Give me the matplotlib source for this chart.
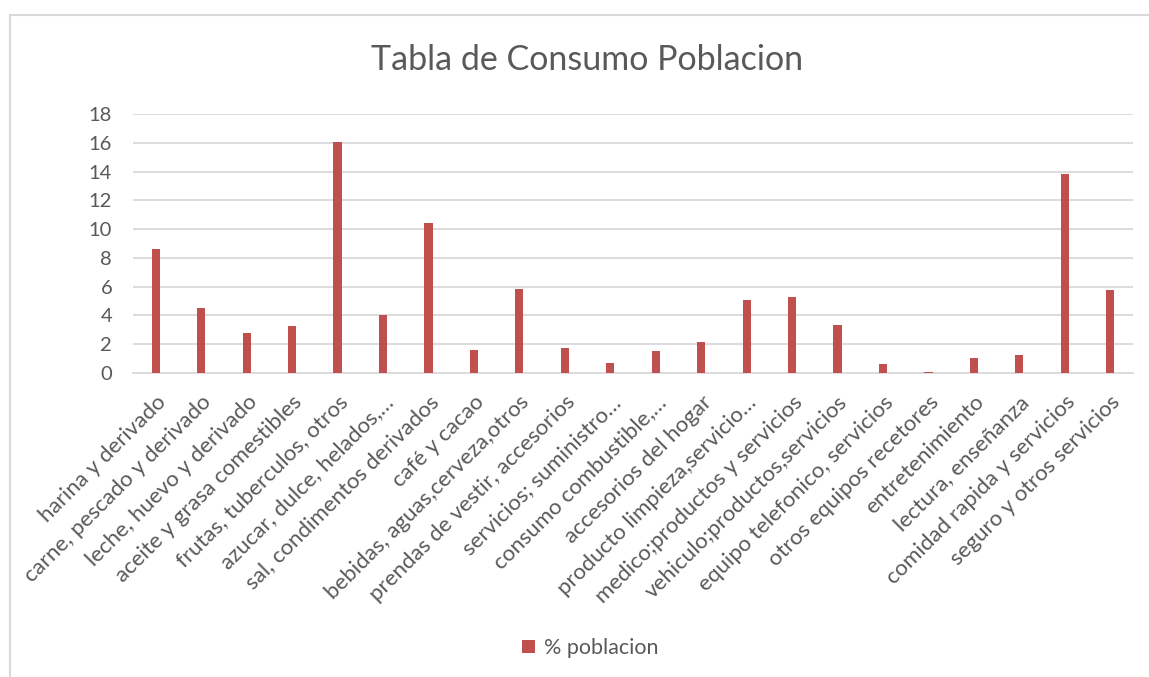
import matplotlib
matplotlib.use("Agg")
import matplotlib.pyplot as plt
from matplotlib.lines import Line2D
from matplotlib.patches import Patch

categories = [
    "harina y derivado",
    "carne, pescado y derivado",
    "leche, huevo y derivado",
    "aceite y grasa comestibles",
    "frutas, tuberculos, otros",
    "azucar, dulce, helados,…",
    "sal, condimentos derivados",
    "café y cacao",
    "bebidas, aguas,cerveza,otros",
    "prendas de vestir, accesorios",
    "servicios; suministro…",
    "consumo combustible,…",
    "accesorios del hogar",
    "producto limpieza,servicio…",
    "medico;productos y servicios",
    "vehiculo;productos,servicios",
    "equipo telefonico, servicios",
    "otros equipos recetores",
    "entretenimiento",
    "lectura, enseñanza",
    "comidad rapida y servicios",
    "seguro y otros servicios",
]
values = [8.61, 4.52, 2.81, 3.25, 16.03, 4.04, 10.42, 1.60, 5.82, 1.72, 0.72,
          1.51, 2.13, 5.10, 5.31, 3.34, 0.60, 0.09, 1.07, 1.28, 13.80, 5.75]
y_ticks = [0, 2, 4, 6, 8, 10, 12, 14, 16, 18]
series_name = "% poblacion"
title = "Tabla de Consumo Poblacion"

BAR = "#c0504d"
TXT = "#595959"
GRID = "#d9d9d9"
FONT = ["Lato", "DejaVu Sans"]
plt.rcParams["font.family"] = FONT

W, H = 1149, 677
fig = plt.figure(figsize=(W / 100, H / 100), dpi=100)
ax = fig.add_axes([133 / W, 1 - 373 / H, 1000 / W, (373 - 114) / H])

x = list(range(len(categories)))
ax.bar(x, values, width=0.18, color=BAR, zorder=3)
ax.set_xlim(-0.5, len(categories) - 0.5)
ax.set_ylim(0, 18)
ax.set_yticks(y_ticks)
ax.yaxis.grid(True, color=GRID, linewidth=1.3, zorder=0)
ax.set_axisbelow(True)
for s in ["top", "right", "left"]:
    ax.spines[s].set_visible(False)
ax.spines["bottom"].set_color(GRID)
ax.spines["bottom"].set_linewidth(1.3)
ax.tick_params(axis="both", length=0, colors=TXT)
ax.tick_params(axis="y", pad=15, labelsize=14.5)
ax.set_xticks(x)
ax.set_xticklabels(categories, rotation=45, ha="right", va="top",
                   rotation_mode="anchor", color=TXT, fontsize=16)
for lbl in ax.get_xticklabels():
    lbl.set_y(-0.055)

fig.text(587 / W, 1 - 60 / H, title, ha="center", va="center",
         fontsize=24.5, color=TXT)

leg = fig.legend(handles=[Patch(facecolor=BAR, label=series_name)],
                 loc="center", bbox_to_anchor=(590 / W, 1 - 648 / H),
                 frameon=False, fontsize=15.5, handlelength=0.6, handleheight=0.6,
                 handletextpad=0.4)
for t in leg.get_texts():
    t.set_color(TXT)

# chart frame
fig.add_artist(Line2D([10 / W, 10 / W], [1 - 15 / H, 0], color=GRID,
                      linewidth=1.5, transform=fig.transFigure))
fig.add_artist(Line2D([10 / W, 1], [1 - 15 / H, 1 - 15 / H], color=GRID,
                      linewidth=1.5, transform=fig.transFigure))

fig.savefig("out.png", dpi=100, facecolor="white")
